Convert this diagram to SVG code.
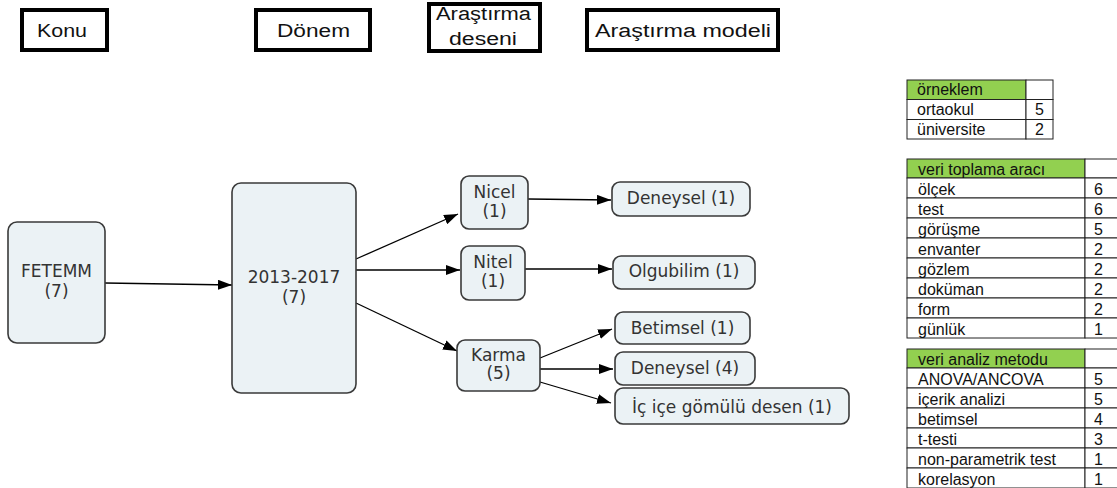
<svg xmlns="http://www.w3.org/2000/svg" width="1117" height="488" viewBox="0 0 1117 488">
<style>
.hdr{fill:#fff;stroke:#000;stroke-width:4}
.ht{font-family:"Liberation Sans",Arial,sans-serif;font-size:18px;fill:#111}
.nd{fill:#EBF2F5;stroke:#3a3a3a;stroke-width:1.6}
.nt{font-family:"DejaVu Sans",Verdana,sans-serif;font-size:17px;fill:#333;text-anchor:middle}
.cn{stroke:#000;stroke-width:1.3;fill:none;marker-end:url(#ah)}
.cell{fill:#fff;stroke:#222;stroke-width:1}
.green{fill:#92D050;stroke:#222;stroke-width:1}
.tt{font-family:"Liberation Sans",Arial,sans-serif;font-size:16px;fill:#111}
.tv{font-family:"Liberation Sans",Arial,sans-serif;font-size:16px;fill:#111;text-anchor:middle}
</style>
<defs>
<marker id="ah" viewBox="0 0 14 10" refX="14" refY="5" markerWidth="14" markerHeight="10" markerUnits="userSpaceOnUse" orient="auto">
<path d="M0,0 L14,5 L0,10 Z" fill="#000"/>
</marker>
</defs>
<rect width="1117" height="488" fill="#fff"/>

<g id="header-konu"><rect class="hdr" x="22" y="10" width="85" height="40"/><text class="ht" x="37" y="37" textLength="50" lengthAdjust="spacingAndGlyphs">Konu</text></g>
<g id="header-donem"><rect class="hdr" x="256" y="10" width="114" height="40"/><text class="ht" x="277" y="37" textLength="73" lengthAdjust="spacingAndGlyphs">Dönem</text></g>
<g id="header-desen"><rect class="hdr" x="429" y="4" width="111" height="47"/><text class="ht" x="436" y="20" textLength="95" lengthAdjust="spacingAndGlyphs">Araştırma</text><text class="ht" x="449" y="45" textLength="68" lengthAdjust="spacingAndGlyphs">deseni</text></g>
<g id="header-model"><rect class="hdr" x="587" y="10" width="191" height="40"/><text class="ht" x="595" y="37" textLength="176" lengthAdjust="spacingAndGlyphs">Araştırma modeli</text></g>

<g id="connectors">
<line class="cn" x1="105" y1="283" x2="232" y2="285"/>
<line class="cn" x1="356" y1="259" x2="458" y2="214"/>
<line class="cn" x1="356" y1="270" x2="460" y2="270"/>
<line class="cn" x1="356" y1="303" x2="457" y2="351"/>
<line class="cn" x1="528" y1="199" x2="611" y2="200"/>
<line class="cn" x1="525" y1="269" x2="612" y2="269"/>
<line class="cn" x1="540" y1="358" x2="612" y2="329"/>
<line class="cn" x1="540" y1="369" x2="613" y2="369"/>
<line class="cn" x1="540" y1="382" x2="611" y2="403"/>
</g>

<g id="node-fetemm"><rect class="nd" x="8" y="222" width="97" height="121" rx="9"/><text class="nt" x="56.5" y="277">FETEMM</text><text class="nt" x="56.5" y="297">(7)</text></g>
<g id="node-donem"><rect class="nd" x="232" y="183" width="124" height="210" rx="9"/><text class="nt" x="294" y="283">2013-2017</text><text class="nt" x="294" y="303">(7)</text></g>
<g id="node-nicel"><rect class="nd" x="461" y="176" width="67" height="53" rx="8"/><text class="nt" x="494.5" y="198">Nicel</text><text class="nt" x="494.5" y="217">(1)</text></g>
<g id="node-nitel"><rect class="nd" x="461" y="246" width="64" height="54" rx="8"/><text class="nt" x="493" y="268">Nitel</text><text class="nt" x="493" y="287">(1)</text></g>
<g id="node-karma"><rect class="nd" x="457" y="340" width="83" height="51" rx="8"/><text class="nt" x="498.5" y="361">Karma</text><text class="nt" x="498.5" y="379">(5)</text></g>
<g id="node-deneysel1"><rect class="nd" x="612" y="182" width="138" height="34" rx="8"/><text class="nt" x="681" y="204">Deneysel (1)</text></g>
<g id="node-olgubilim"><rect class="nd" x="613" y="256" width="142" height="33" rx="8"/><text class="nt" x="684" y="277">Olgubilim (1)</text></g>
<g id="node-betimsel"><rect class="nd" x="615" y="312" width="135" height="32" rx="8"/><text class="nt" x="682.5" y="334">Betimsel (1)</text></g>
<g id="node-deneysel4"><rect class="nd" x="615" y="352" width="140" height="33" rx="8"/><text class="nt" x="685" y="374">Deneysel (4)</text></g>
<g id="node-icice"><rect class="nd" x="615" y="388" width="234" height="36" rx="8"/><text class="nt" x="732" y="413">İç içe gömülü desen (1)</text></g>

<g id="table-orneklem">
<rect class="green" x="907" y="80" width="119" height="19.5"/>
<rect class="cell" x="1026" y="80" width="27" height="19.5"/>
<rect class="cell" x="907" y="99.5" width="119" height="20"/>
<rect class="cell" x="1026" y="99.5" width="27" height="20"/>
<rect class="cell" x="907" y="119.5" width="119" height="19.5"/>
<rect class="cell" x="1026" y="119.5" width="27" height="19.5"/>
<text class="tt" x="917" y="95">örneklem</text>
<text class="tt" x="917" y="115">ortaokul</text><text class="tv" x="1039.5" y="115">5</text>
<text class="tt" x="917" y="135">üniversite</text><text class="tv" x="1039.5" y="135">2</text>
</g>

<g id="table-veri-toplama">
<rect class="green" x="907" y="159" width="178" height="19"/>
<rect class="cell" x="1085" y="159" width="34" height="19"/>
<rect class="cell" x="907" y="178" width="178" height="20"/><rect class="cell" x="1085" y="178" width="34" height="20"/>
<rect class="cell" x="907" y="198" width="178" height="20"/><rect class="cell" x="1085" y="198" width="34" height="20"/>
<rect class="cell" x="907" y="218" width="178" height="20"/><rect class="cell" x="1085" y="218" width="34" height="20"/>
<rect class="cell" x="907" y="238" width="178" height="20"/><rect class="cell" x="1085" y="238" width="34" height="20"/>
<rect class="cell" x="907" y="258" width="178" height="20"/><rect class="cell" x="1085" y="258" width="34" height="20"/>
<rect class="cell" x="907" y="278" width="178" height="20"/><rect class="cell" x="1085" y="278" width="34" height="20"/>
<rect class="cell" x="907" y="298" width="178" height="20"/><rect class="cell" x="1085" y="298" width="34" height="20"/>
<rect class="cell" x="907" y="318" width="178" height="20"/><rect class="cell" x="1085" y="318" width="34" height="20"/>
<text class="tt" x="918" y="175">veri toplama aracı</text>
<text class="tt" x="918" y="195">ölçek</text><text class="tv" x="1098.5" y="195">6</text>
<text class="tt" x="918" y="215">test</text><text class="tv" x="1098.5" y="215">6</text>
<text class="tt" x="918" y="235">görüşme</text><text class="tv" x="1098.5" y="235">5</text>
<text class="tt" x="918" y="255">envanter</text><text class="tv" x="1098.5" y="255">2</text>
<text class="tt" x="918" y="275">gözlem</text><text class="tv" x="1098.5" y="275">2</text>
<text class="tt" x="918" y="295">doküman</text><text class="tv" x="1098.5" y="295">2</text>
<text class="tt" x="918" y="315">form</text><text class="tv" x="1098.5" y="315">2</text>
<text class="tt" x="918" y="335">günlük</text><text class="tv" x="1098.5" y="335">1</text>
</g>

<g id="table-veri-analiz">
<rect class="green" x="907" y="349" width="178" height="19"/>
<rect class="cell" x="1085" y="349" width="34" height="19"/>
<rect class="cell" x="907" y="368" width="178" height="20"/><rect class="cell" x="1085" y="368" width="34" height="20"/>
<rect class="cell" x="907" y="388" width="178" height="20"/><rect class="cell" x="1085" y="388" width="34" height="20"/>
<rect class="cell" x="907" y="408" width="178" height="20"/><rect class="cell" x="1085" y="408" width="34" height="20"/>
<rect class="cell" x="907" y="428" width="178" height="20"/><rect class="cell" x="1085" y="428" width="34" height="20"/>
<rect class="cell" x="907" y="448" width="178" height="20"/><rect class="cell" x="1085" y="448" width="34" height="20"/>
<rect class="cell" x="907" y="468" width="178" height="20"/><rect class="cell" x="1085" y="468" width="34" height="20"/>
<text class="tt" x="918" y="365">veri analiz metodu</text>
<text class="tt" x="918" y="385">ANOVA/ANCOVA</text><text class="tv" x="1098.5" y="385">5</text>
<text class="tt" x="918" y="405">içerik analizi</text><text class="tv" x="1098.5" y="405">5</text>
<text class="tt" x="918" y="425">betimsel</text><text class="tv" x="1098.5" y="425">4</text>
<text class="tt" x="918" y="445">t-testi</text><text class="tv" x="1098.5" y="445">3</text>
<text class="tt" x="918" y="465">non-parametrik test</text><text class="tv" x="1098.5" y="465">1</text>
<text class="tt" x="918" y="485">korelasyon</text><text class="tv" x="1098.5" y="485">1</text>
</g>
</svg>
